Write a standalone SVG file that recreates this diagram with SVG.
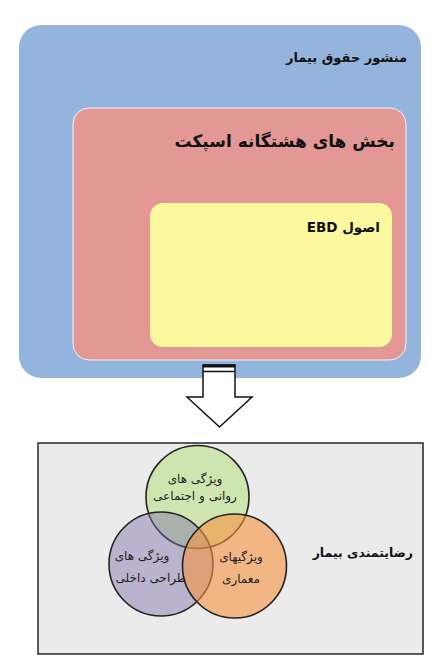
<svg xmlns="http://www.w3.org/2000/svg" width="435" height="666" viewBox="0 0 435 666">
<style>
.t{font-family:"DejaVu Sans",sans-serif;fill:#111;}
.h{font-weight:bold;}
.v{font-size:12px;fill:#222;}
.c{stroke:#222;stroke-width:1.6;}
</style>
<rect width="435" height="666" fill="#ffffff"/>
<g id="charter">
<rect x="19" y="25" width="402" height="353" rx="22" fill="#93b4dd"/>
<text class="t h" x="407" y="62" font-size="13" direction="rtl" text-anchor="start">منشور حقوق بیمار</text>
</g>
<g id="sections">
<rect x="73" y="108" width="333" height="252" rx="16" fill="#e39896" stroke="#f4f4f4" stroke-width="1"/>
<text class="t h" x="395" y="147" font-size="17" direction="rtl" text-anchor="start">بخش های هشتگانه اسپکت</text>
</g>
<g id="ebd">
<rect x="150" y="203" width="242" height="144" rx="13" fill="#fcf8a0"/>
<text class="t h" x="380" y="232" font-size="13.5" direction="rtl" text-anchor="start">اصول EBD</text>
</g>
<g id="connectors">
<path d="M203,365 L235,365 L235,397 L252,397 L219.5,427 L187,397 L203,397 Z" fill="#ffffff" stroke="#111" stroke-width="1.5" stroke-linejoin="miter"/>
<rect x="203" y="364.5" width="32" height="3" fill="#111"/>
<line x1="203" y1="371.5" x2="235" y2="371.5" stroke="#111" stroke-width="1.5"/>
</g>
<g id="satisfaction">
<rect x="38" y="443" width="385" height="211" fill="#ebebeb" stroke="#333" stroke-width="1.6"/>
<text class="t h" x="413" y="557" font-size="12.5" direction="rtl" text-anchor="start">رضایتمندی بیمار</text>
</g>
<g id="venn-social">
<circle class="c" cx="197.5" cy="497" r="51.5" fill="#c9e4a6" fill-opacity="0.85"/>
<text class="t v" x="195" y="483" direction="rtl" text-anchor="middle">ویژگی های</text>
<text class="t v" x="195" y="500" direction="rtl" text-anchor="middle">روانی و اجتماعی</text>
</g>
<g id="venn-interior">
<circle class="c" cx="161" cy="564" r="52" fill="#7f6fa8" fill-opacity="0.45"/>
<text class="t v" x="142" y="560" direction="rtl" text-anchor="middle">ویژگی های</text>
<text class="t v" x="151" y="582" direction="rtl" text-anchor="middle">طراحی داخلی</text>
</g>
<g id="venn-architecture">
<circle class="c" cx="234.5" cy="566" r="52" fill="#f6923f" fill-opacity="0.6"/>
<text class="t v" x="241" y="561" direction="rtl" text-anchor="middle">ویژگیهای</text>
<text class="t v" x="241" y="583" direction="rtl" text-anchor="middle">معماری</text>
</g>
</svg>
